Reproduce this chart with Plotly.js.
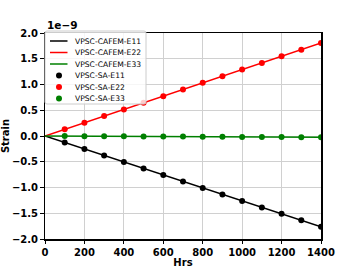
<!DOCTYPE html>
<html>
<head>
<meta charset="utf-8">
<script src="https://cdn.plot.ly/plotly-3.0.1.min.js"></script>
<style>html,body{margin:0;padding:0;background:#fff;}#chart{width:357px;height:268px;}</style>
</head>
<body>
<div id="chart"></div>
<script>
// Values in units of 1e-9
var hrsLine = [0, 100, 200, 300, 400, 500, 600, 700, 800, 900, 1000, 1100, 1200, 1300, 1400];
var cafemE11 = [0, -0.126, -0.252, -0.378, -0.504, -0.630, -0.756, -0.882, -1.008, -1.134, -1.260, -1.386, -1.512, -1.638, -1.764];
var cafemE22 = [0, 0.129, 0.258, 0.387, 0.516, 0.645, 0.774, 0.903, 1.032, 1.161, 1.290, 1.419, 1.548, 1.677, 1.806];
var cafemE33 = [0, -0.002, -0.003, -0.005, -0.007, -0.008, -0.010, -0.012, -0.013, -0.015, -0.017, -0.018, -0.020, -0.022, -0.023];

var hrsPts = [100, 200, 300, 400, 500, 600, 700, 800, 900, 1000, 1100, 1200, 1300, 1400];
var saE11 = [-0.126, -0.252, -0.378, -0.504, -0.630, -0.756, -0.882, -1.008, -1.134, -1.260, -1.386, -1.512, -1.638, -1.764];
var saE22 = [0.129, 0.258, 0.387, 0.516, 0.645, 0.774, 0.903, 1.032, 1.161, 1.290, 1.419, 1.548, 1.677, 1.806];
var saE33 = [-0.002, -0.003, -0.005, -0.007, -0.008, -0.010, -0.012, -0.013, -0.015, -0.017, -0.018, -0.020, -0.022, -0.023];

var names = ['VPSC-CAFEM-E11', 'VPSC-CAFEM-E22', 'VPSC-CAFEM-E33', 'VPSC-SA-E11', 'VPSC-SA-E22', 'VPSC-SA-E33'];
var colors = ['#000000', '#ff0000', '#008000'];

var traces = [
  {x: hrsLine, y: cafemE11, name: names[0], mode: 'lines', line: {color: colors[0], width: 1.5}},
  {x: hrsLine, y: cafemE22, name: names[1], mode: 'lines', line: {color: colors[1], width: 1.5}},
  {x: hrsLine, y: cafemE33, name: names[2], mode: 'lines', line: {color: colors[2], width: 1.5}},
  {x: hrsPts, y: saE11, name: names[3], mode: 'markers', marker: {color: colors[0], size: 6}},
  {x: hrsPts, y: saE22, name: names[4], mode: 'markers', marker: {color: colors[1], size: 6}},
  {x: hrsPts, y: saE33, name: names[5], mode: 'markers', marker: {color: colors[2], size: 6}}
];

var fontFam = 'DejaVu Sans, sans-serif';
var W = 357, H = 268, ML = 45, MR = 36, MT = 33, MB = 29;
var PW = W - ML - MR, PH = H - MT - MB;
function fx(px) { return (px - ML) / PW; }
function fy(py) { return (H - MB - py) / PH; }

// Hand-built compact legend (matplotlib-like)
var shapes = [];
var annotations = [];
var bx0 = 45, bx1 = 146, by0 = 31, by1 = 104, r = 2;
shapes.push({type: 'path', xref: 'paper', yref: 'paper', layer: 'above',
  path: 'M' + fx(bx0 + r) + ',' + fy(by0) + ' L' + fx(bx1 - r) + ',' + fy(by0) +
        ' Q' + fx(bx1) + ',' + fy(by0) + ' ' + fx(bx1) + ',' + fy(by0 + r) +
        ' L' + fx(bx1) + ',' + fy(by1 - r) +
        ' Q' + fx(bx1) + ',' + fy(by1) + ' ' + fx(bx1 - r) + ',' + fy(by1) +
        ' L' + fx(bx0 + r) + ',' + fy(by1) +
        ' Q' + fx(bx0) + ',' + fy(by1) + ' ' + fx(bx0) + ',' + fy(by1 - r) +
        ' L' + fx(bx0) + ',' + fy(by0 + r) +
        ' Q' + fx(bx0) + ',' + fy(by0) + ' ' + fx(bx0 + r) + ',' + fy(by0) + ' Z',
  fillcolor: 'rgba(255,255,255,0.8)', line: {color: '#cccccc', width: 1}});
for (var i = 0; i < names.length; i++) {
  var cy = 41 + i * 11.5;
  var c = colors[i % 3];
  if (i < 3) {
    shapes.push({type: 'line', xref: 'paper', yref: 'paper', layer: 'above',
      x0: fx(50), x1: fx(67.5), y0: fy(cy), y1: fy(cy), line: {color: c, width: 1.5}});
  } else {
    shapes.push({type: 'circle', xref: 'paper', yref: 'paper', layer: 'above',
      xsizemode: 'pixel', ysizemode: 'pixel', xanchor: fx(59), yanchor: fy(cy),
      x0: -3, x1: 3, y0: -3, y1: 3, fillcolor: c, line: {color: c, width: 0}});
  }
  annotations.push({text: names[i], xref: 'paper', yref: 'paper', x: fx(73), y: fy(cy),
    xanchor: 'left', yanchor: 'middle', showarrow: false,
    font: {family: fontFam, size: 7.6, color: '#000'}});
}
annotations.push({text: '1e\u22129', xref: 'paper', yref: 'paper', x: 0, y: 1, xanchor: 'left', yanchor: 'bottom',
  showarrow: false, font: {family: fontFam, size: 10.5, weight: 'bold'}});

var layout = {
  width: W, height: H,
  margin: {l: ML, r: MR, t: MT, b: MB},
  paper_bgcolor: '#fff', plot_bgcolor: '#fff',
  font: {family: fontFam, color: '#000'},
  showlegend: false,
  xaxis: {range: [0, 1400], dtick: 200, tick0: 0, showgrid: true, gridcolor: '#d0d0d0', gridwidth: 1,
          zeroline: false, showline: true, mirror: true, linecolor: '#000', linewidth: 1.5,
          ticks: 'outside', ticklen: 3.5, tickwidth: 1, tickcolor: '#000',
          tickfont: {family: fontFam, size: 10, weight: 'bold'},
          title: {text: 'Hrs', font: {family: fontFam, size: 10, weight: 'bold'}, standoff: 2}},
  yaxis: {range: [-2, 2], dtick: 0.5, tick0: 0, tickformat: '.1f', showgrid: true, gridcolor: '#d0d0d0', gridwidth: 1,
          zeroline: false, showline: true, mirror: true, linecolor: '#000', linewidth: 1.5,
          ticks: 'outside', ticklen: 3.5, tickwidth: 1, tickcolor: '#000',
          tickfont: {family: fontFam, size: 10, weight: 'bold'},
          title: {text: 'Strain', font: {family: fontFam, size: 10, weight: 'bold'}, standoff: 4}},
  shapes: shapes,
  annotations: annotations
};

Plotly.newPlot('chart', traces, layout, {displayModeBar: false, staticPlot: true});
</script>
</body>
</html>
